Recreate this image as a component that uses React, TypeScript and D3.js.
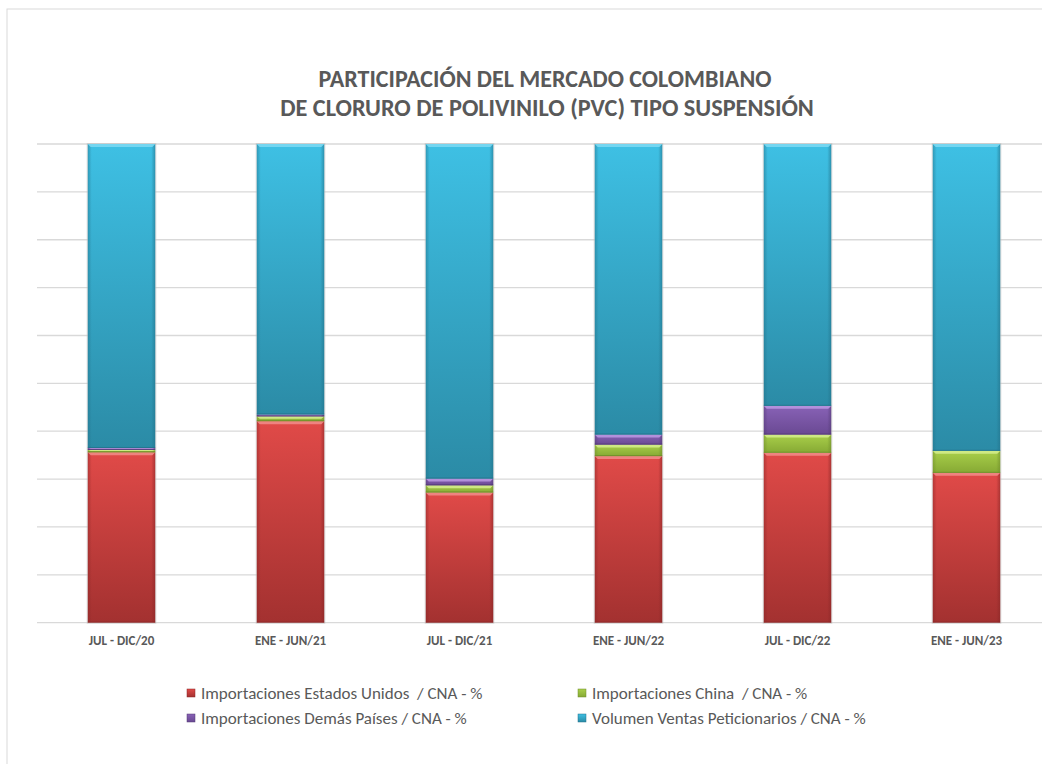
import React from "react";
import * as d3 from "d3";

const categories = ["JUL - DIC/20", "ENE - JUN/21", "JUL - DIC/21", "ENE - JUN/22", "JUL - DIC/22", "ENE - JUN/23"];
const usa = [35.6, 42.1, 27.2, 34.8, 35.5, 31.3];
const china = [0.5, 1.0, 1.5, 2.4, 3.8, 4.6];
const others = [0.4, 0.4, 1.4, 2.1, 6.0, 0.0];
const peticionarios = [63.5, 56.5, 69.9, 60.7, 54.7, 64.1];
const seriesNames = [
  "Importaciones Estados Unidos  / CNA - %",
  "Importaciones China  / CNA - %",
  "Importaciones Demás Países / CNA - %",
  "Volumen Ventas Peticionarios / CNA - %",
];
const yTicks = [0, 10, 20, 30, 40, 50, 60, 70, 80, 90, 100];

const colors = [
  { top: "#e04a48", bot: "#a33130", hi: "#f08a86", edge: "#8a2727" },
  { top: "#a9cf4a", bot: "#86a934", hi: "#d3ec8a", edge: "#6d8b29" },
  { top: "#8862b6", bot: "#6a4993", hi: "#b896e0", edge: "#533a75" },
  { top: "#3ec0e4", bot: "#2b8ba6", hi: "#7ad8f2", edge: "#22728a" },
];

const W = 1042;
const H = 764;
const M = { left: 37, right: W + 9, top: 144, bottom: 622.7 };

export default function App() {
  const x = d3.scaleBand<string>().domain(categories).range([M.left, M.right]).paddingInner(0.6).paddingOuter(0.3);
  const y = d3.scaleLinear().domain([0, 100]).range([M.bottom, M.top]);
  const data = categories.map((c, i) => ({ cat: c, s0: usa[i], s1: china[i], s2: others[i], s3: peticionarios[i] }));
  const stack = d3.stack<any>().keys(["s0", "s1", "s2", "s3"]).offset(d3.stackOffsetExpand);
  const layers = stack(data);
  const font = "Carlito, Lato, 'Open Sans', sans-serif";
  const bw = x.bandwidth();
  const legendPos = [
    [191, 693],
    [582, 693],
    [191, 718],
    [582, 718],
  ];
  return (
    <svg width={W} height={H} style={{ position: "absolute", left: 0, top: 0, background: "#fff" }}>
      <defs>
        {colors.map((c, i) => (
          <linearGradient key={i} id={`g${i}`} x1="0" y1="0" x2="0" y2="1">
            <stop offset="0" stopColor={c.top} />
            <stop offset="1" stopColor={c.bot} />
          </linearGradient>
        ))}
        {colors.map((c, i) => (
          <linearGradient key={"h" + i} id={`gh${i}`} x1="0" y1="0" x2="1" y2="0">
            <stop offset="0" stopColor={c.edge} stopOpacity={0.5} />
            <stop offset="0.06" stopColor={c.edge} stopOpacity={0} />
            <stop offset="0.94" stopColor={c.edge} stopOpacity={0} />
            <stop offset="1" stopColor={c.edge} stopOpacity={0.6} />
          </linearGradient>
        ))}
      </defs>
      <rect x={7} y={9} width={W + 20} height={H + 20} fill="#fff" stroke="#d9d9d9" strokeWidth={1} />
      <text x={545} y={87} textAnchor="middle" fontFamily={font} fontWeight="bold" fontSize={24} fill="#595959">
        PARTICIPACIÓN DEL MERCADO COLOMBIANO
      </text>
      <text x={547} y={116} textAnchor="middle" fontFamily={font} fontWeight="bold" fontSize={24.3} fill="#595959">
        DE CLORURO DE POLIVINILO (PVC) TIPO SUSPENSIÓN
      </text>
      {yTicks.map((t) => (
        <line key={t} x1={M.left} x2={W} y1={y(t)} y2={y(t)} stroke="#d9d9d9" strokeWidth={1.3} />
      ))}
      {layers.map((layer, li) =>
        layer.map((d, i) => {
          const y0 = y(d[0] * 100);
          const y1 = y(d[1] * 100);
          const h = y0 - y1;
          if (h < 0.3) return null;
          const bx = x(categories[i])!;
          const c = colors[li];
          const hiH = Math.min(3, h / 2);
          return (
            <g key={li + "-" + i}>
              <rect x={bx} y={y1} width={bw} height={h} fill={`url(#g${li})`} />
              <rect x={bx} y={y1} width={bw} height={h} fill={`url(#gh${li})`} />
              <polygon
                points={`${bx},${y1} ${bx + bw},${y1} ${bx + bw - 3},${y1 + hiH} ${bx + 3},${y1 + hiH}`}
                fill={c.hi}
                opacity={0.9}
              />
              <line x1={bx} x2={bx + bw} y1={y0 - 0.5} y2={y0 - 0.5} stroke={c.edge} strokeWidth={1} opacity={0.8} />
            </g>
          );
        })
      )}
      {categories.map((c) => (
        <rect key={"o" + c} x={x(c)! - 0.5} y={M.top - 0.5} width={bw + 1} height={M.bottom - M.top + 1} fill="none" stroke="#bfbfbf" strokeWidth={1} opacity={0.6} />
      ))}
      {categories.map((c) => (
        <text key={c} x={x(c)! + bw / 2} y={645} textAnchor="middle" fontFamily={font} fontWeight="bold" fontSize={13} fill="#595959">
          {c}
        </text>
      ))}
      {seriesNames.map((n, i) => (
        <g key={n}>
          <rect x={legendPos[i][0] - 4} y={legendPos[i][1] - 4} width={8} height={8} fill={`url(#g${i})`} stroke={colors[i].edge} strokeWidth={0.5} />
          <text x={legendPos[i][0] + 10} y={legendPos[i][1] + 6} fontFamily={font} fontSize={17} fill="#595959" style={{ whiteSpace: "pre" }}>
            {n}
          </text>
        </g>
      ))}
    </svg>
  );
}
